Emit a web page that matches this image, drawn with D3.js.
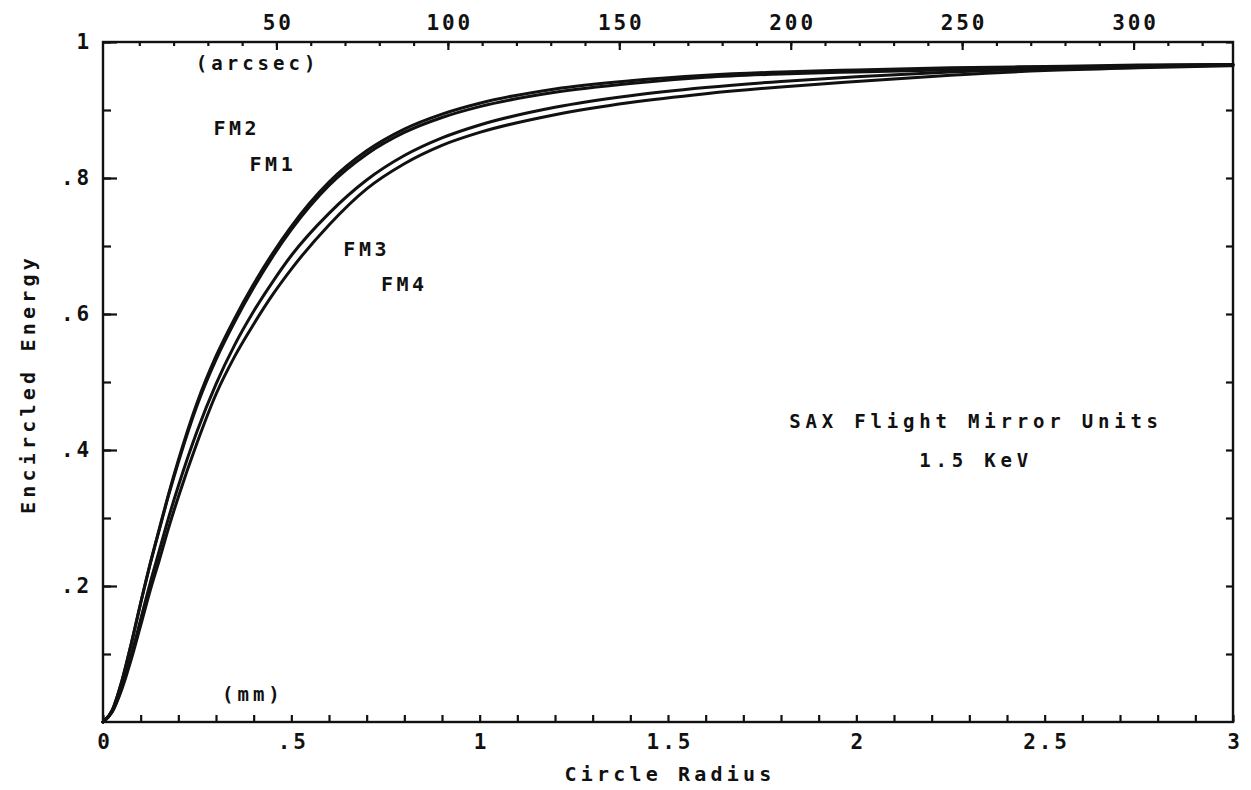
<!DOCTYPE html>
<html>
<head>
<meta charset="utf-8">
<script src="https://cdn.jsdelivr.net/npm/d3@7/dist/d3.min.js"></script>
<style>
  html, body { margin: 0; padding: 0; background: #fff; }
  svg { display: block; }
  text { font-family: "DejaVu Sans Mono", monospace; font-weight: bold; fill: #111; }
</style>
</head>
<body>
<svg id="chart" width="1251" height="790"></svg>
<script>
// Encircled energy vs. circle radius for the four SAX flight mirror units at 1.5 keV
const radiusMm = [0, 0.025, 0.05, 0.075, 0.1, 0.125, 0.15, 0.175, 0.2, 0.25, 0.3, 0.35, 0.4, 0.45, 0.5,
                  0.6, 0.7, 0.8, 0.9, 1.0, 1.2, 1.4, 1.6, 1.8, 2.0, 2.25, 2.5, 2.75, 3.0];
const fm2 = [0, 0.018, 0.06, 0.115, 0.175, 0.232, 0.285, 0.337, 0.385, 0.47, 0.538, 0.594, 0.644, 0.689, 0.729,
             0.794, 0.84, 0.872, 0.894, 0.91, 0.931, 0.943, 0.951, 0.956, 0.959, 0.962, 0.964, 0.966, 0.967];
const fm1 = [0, 0.018, 0.06, 0.115, 0.175, 0.232, 0.284, 0.335, 0.382, 0.466, 0.533, 0.589, 0.639, 0.684, 0.724,
             0.789, 0.835, 0.867, 0.889, 0.905, 0.926, 0.939, 0.948, 0.953, 0.956, 0.959, 0.962, 0.965, 0.967];
const fm3 = [0, 0.016, 0.051, 0.098, 0.151, 0.204, 0.253, 0.302, 0.347, 0.428, 0.497, 0.555, 0.604, 0.647, 0.686,
             0.748, 0.797, 0.833, 0.859, 0.878, 0.904, 0.921, 0.933, 0.942, 0.949, 0.956, 0.961, 0.964, 0.966];
const fm4 = [0, 0.015, 0.048, 0.092, 0.142, 0.193, 0.239, 0.287, 0.331, 0.411, 0.482, 0.538, 0.585, 0.628, 0.666,
             0.731, 0.784, 0.821, 0.848, 0.867, 0.893, 0.911, 0.924, 0.934, 0.942, 0.951, 0.958, 0.962, 0.965];

const seriesNames = ["FM1", "FM2", "FM3", "FM4"];
const seriesValues = [fm1, fm2, fm3, fm4];

// Axis ticks and labels
const mmTicks = d3.range(0, 31).map(i => i / 10);
const mmLabels = [0, 0.5, 1, 1.5, 2, 2.5, 3];
const mmLabelText = ["0", ".5", "1", "1.5", "2", "2.5", "3"];
const arcsecTicks = d3.range(10, 329, 10);
const arcsecLabels = [50, 100, 150, 200, 250, 300];
const eeTicks = d3.range(1, 11).map(i => i / 10);
const eeLabels = [0.2, 0.4, 0.6, 0.8, 1];
const eeLabelText = [".2", ".4", ".6", ".8", "1"];

// Label positions in data units
const curveLabels = [
  { name: "FM2", r: 0.355, ee: 0.863 },
  { name: "FM1", r: 0.451, ee: 0.81 },
  { name: "FM3", r: 0.70, ee: 0.685 },
  { name: "FM4", r: 0.80, ee: 0.634 }
];
const noteLines = ["SAX Flight Mirror Units", "1.5 KeV"];

const svg = d3.select("#chart");
const plotLeft = 103, plotRight = 1233, plotTop = 42, plotBottom = 722;

const x = d3.scaleLinear().domain([0, 3]).range([plotLeft, plotRight]);
const xArc = d3.scaleLinear().domain([0, 329]).range([plotLeft + 2, plotRight]);
const y = d3.scaleLinear().domain([0, 1]).range([plotBottom, plotTop]);

// Frame
svg.append("rect")
  .attr("x", plotLeft).attr("y", plotTop)
  .attr("width", plotRight - plotLeft).attr("height", plotBottom - plotTop)
  .attr("fill", "none").attr("stroke", "#111").attr("stroke-width", 2.4);

function styleAxis(g) {
  g.select(".domain").remove();
  g.selectAll(".tick line").attr("stroke", "#111").attr("stroke-width", 2.2);
  g.selectAll(".tick text").attr("fill", "#111")
    .style("font-family", '"DejaVu Sans Mono", monospace')
    .style("font-weight", "bold")
    .style("font-size", "21px")
    .style("letter-spacing", "2.9px");
}

// Bottom axis (mm)
svg.append("g").attr("transform", `translate(0,${plotBottom})`)
  .call(d3.axisBottom(x).tickValues(mmTicks).tickSize(-7).tickFormat(""))
  .call(styleAxis);
svg.append("g").attr("transform", `translate(0,${plotBottom})`)
  .call(d3.axisBottom(x).tickValues(mmLabels).tickSize(0).tickPadding(12)
    .tickFormat((d, i) => mmLabelText[i]))
  .call(styleAxis)
  .call(g => g.selectAll(".tick text").attr("dx", "1.4"));

// Top axis (arcsec)
svg.append("g").attr("transform", `translate(0,${plotTop})`)
  .call(d3.axisTop(xArc).tickValues(arcsecTicks).tickSize(-4).tickFormat(""))
  .call(styleAxis);
svg.append("g").attr("transform", `translate(0,${plotTop})`)
  .call(d3.axisTop(xArc).tickValues(arcsecLabels).tickSize(-8).tickPadding(12)
    .tickFormat(d3.format("d")))
  .call(styleAxis)
  .call(g => g.selectAll(".tick text").attr("dx", "1.4"));

// Left axis
svg.append("g").attr("transform", `translate(${plotLeft},0)`)
  .call(d3.axisLeft(y).tickValues(eeTicks).tickSize(-8).tickFormat(""))
  .call(styleAxis);
svg.append("g").attr("transform", `translate(${plotLeft},0)`)
  .call(d3.axisLeft(y).tickValues(eeLabels).tickSize(-14).tickPadding(11)
    .tickFormat((d, i) => eeLabelText[i]))
  .call(styleAxis);

// Right axis
svg.append("g").attr("transform", `translate(${plotRight},0)`)
  .call(d3.axisRight(y).tickValues(eeTicks).tickSize(-7).tickFormat(""))
  .call(styleAxis);

// Axis titles
svg.append("text")
  .attr("x", (plotLeft + plotRight) / 2 + 2).attr("y", 781)
  .attr("text-anchor", "middle")
  .style("font-size", "20px").style("letter-spacing", "4.2px")
  .text("Circle Radius");
svg.append("text")
  .attr("transform", `translate(35,${(plotTop + plotBottom) / 2 + 2}) rotate(-90)`)
  .attr("text-anchor", "middle")
  .style("font-size", "20px").style("letter-spacing", "4.2px")
  .text("Encircled Energy");

// Unit labels
svg.append("text").attr("x", xArc(44.5)).attr("y", y(0.9588))
  .attr("text-anchor", "middle").style("font-size", "19px").style("letter-spacing", "4px")
  .text("(arcsec)");
svg.append("text").attr("x", x(0.398)).attr("y", y(0.031))
  .attr("text-anchor", "middle").style("font-size", "19px").style("letter-spacing", "4px")
  .text("(mm)");

// Curves
const line = d3.line()
  .x((d, i) => x(radiusMm[i]))
  .y(d => y(d))
  .curve(d3.curveMonotoneX);

svg.append("g").selectAll("path")
  .data(seriesValues)
  .join("path")
  .attr("d", d => line(d))
  .attr("fill", "none")
  .attr("stroke", "#111")
  .attr("stroke-width", 3)
  .attr("stroke-linejoin", "round")
  .attr("stroke-linecap", "round");

// Curve labels
svg.append("g").selectAll("text")
  .data(curveLabels)
  .join("text")
  .attr("x", d => x(d.r)).attr("y", d => y(d.ee))
  .attr("text-anchor", "middle")
  .style("font-size", "20px").style("letter-spacing", "3.5px")
  .text(d => d.name);

// Annotation
svg.append("g").selectAll("text")
  .data(noteLines)
  .join("text")
  .attr("x", x(2.318)).attr("y", (d, i) => y(0.432) + i * 39)
  .attr("text-anchor", "middle")
  .style("font-size", "19px").style("letter-spacing", "4.8px")
  .text(d => d);
</script>
</body>
</html>
